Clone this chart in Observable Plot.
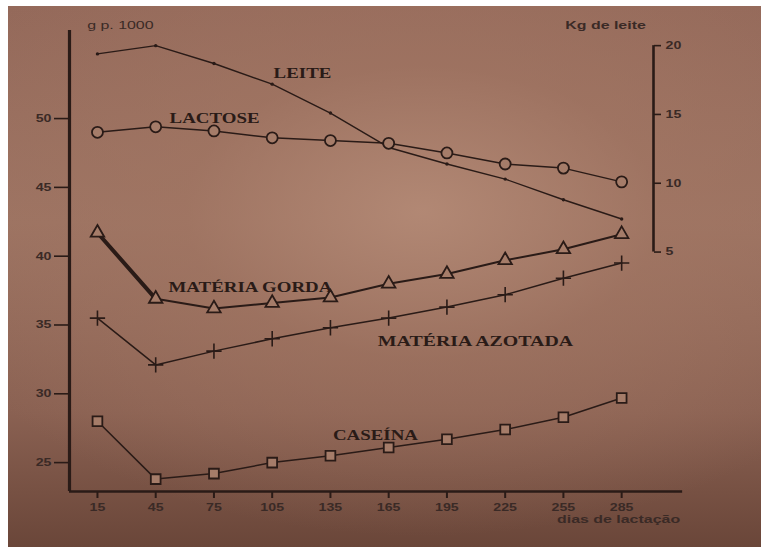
<!DOCTYPE html>
<html>
<head>
<meta charset="utf-8">
<script src="https://cdn.jsdelivr.net/npm/d3@7"></script>
<script src="https://cdn.jsdelivr.net/npm/@observablehq/plot@0.6"></script>
<style>
  html, body { margin: 0; padding: 0; background: #ffffff; }
  #page {
    position: absolute; left: 8px; top: 6px; width: 753px; height: 541px;
    background:
      radial-gradient(ellipse 70% 60% at 55% 38%, rgba(180,138,118,0.9) 0%, rgba(162,118,99,0.6) 45%, rgba(120,84,69,0) 100%),
      linear-gradient(180deg, #94695a 0%, #9c7362 40%, #8a6152 75%, #6a4639 100%);
  }
  #chart { position: absolute; left: 0; top: 0; }
</style>
</head>
<body>
<div id="page"></div>
<div id="chart"></div>
<script>
// ---- data ----
const days     = [15, 45, 75, 105, 135, 165, 195, 225, 255, 285];
const leiteKg  = [19.4, 20.0, 18.7, 17.2, 15.1, 12.6, 11.4, 10.3, 8.8, 7.4];   // right axis, Kg de leite
const lactose  = [49.0, 49.4, 49.1, 48.6, 48.4, 48.2, 47.5, 46.7, 46.4, 45.4]; // g p. 1000
const gorda    = [41.7, 36.9, 36.2, 36.6, 37.0, 38.0, 38.7, 39.7, 40.5, 41.6];
const azotada  = [35.5, 32.1, 33.1, 34.0, 34.8, 35.5, 36.3, 37.2, 38.4, 39.5];
const caseina  = [28.0, 23.8, 24.2, 25.0, 25.5, 26.1, 26.7, 27.4, 28.3, 29.7];
const leftTicks  = [25, 30, 35, 40, 45, 50];
const rightTicks = [5, 10, 15, 20];
const seriesNames = ["LEITE", "LACTOSE", "MATÉRIA GORDA", "MATÉRIA AZOTADA", "CASEÍNA"];
const titleTexts = ["g p. 1000", "Kg de leite", "dias de lactação"];

// ---- layout / scale alignment ----
const xDomain = [0.6, 301.4];
const xAxisEnd = 316.4;
const yDomain = [22.9, 56.4];
const kgOffset = 35.3;            // aligns the Kg axis with the g p. 1000 axis
const ink = "#2a1b17";
const tickInk = "#3a2a26";

const rows = (vals) => days.map((d, i) => ({day: d, v: vals[i], i}));
const leite = days.map((d, i) => ({day: d, v: leiteKg[i] + kgOffset, i}));

const labels = [
  {text: seriesNames[0], day: 120.6, v: 53.3},
  {text: seriesNames[1], day: 75.3,  v: 50.0},
  {text: seriesNames[2], day: 93.8,  v: 37.7},
  {text: seriesNames[3], day: 209.7, v: 33.8},
  {text: seriesNames[4], day: 158.2, v: 27.0}
];
const titles = [
  {text: titleTexts[0], day: 26.8,  v: 56.8},
  {text: titleTexts[1], day: 276.7, v: 56.8},
  {text: titleTexts[2], day: 283.4, v: 20.86}
];

const serif = "Liberation Serif, Times New Roman, serif";
const bgFill = "#a57c69";

const plot = Plot.plot({
  width: 761,
  height: 547,
  marginLeft: 69,
  marginRight: 108,
  marginTop: 30,
  marginBottom: 56,
  style: {background: "transparent", fontFamily: "Liberation Sans, Arial, sans-serif", fontSize: "10.5px", fontWeight: "bold", color: tickInk},
  x: {domain: xDomain},
  y: {domain: yDomain},
  marks: [
    // axes
    Plot.axisX({ticks: days, tickSize: 7, tickPadding: 5, label: null, stroke: ink, strokeWidth: 2, fill: tickInk}),
    Plot.axisY({anchor: "left", ticks: leftTicks, tickSize: 15, tickPadding: 3, label: null, stroke: ink, strokeWidth: 1.6, fill: tickInk}),
    Plot.axisY({anchor: "right", ticks: rightTicks.map(r => r + kgOffset), tickFormat: d => String(Math.round(d - kgOffset)), tickSize: 7, tickPadding: 5, label: null, stroke: ink, strokeWidth: 1.6, fill: tickInk}),
    Plot.ruleX([xDomain[0]], {stroke: ink, strokeWidth: 3.2}),
    Plot.ruleY([yDomain[0]], {x1: xDomain[0], x2: xAxisEnd, stroke: ink, strokeWidth: 2.6}),
    Plot.ruleX([xDomain[1]], {y1: rightTicks[0] + kgOffset, y2: rightTicks[rightTicks.length - 1] + kgOffset, stroke: ink, strokeWidth: 2.6}),

    // LEITE
    Plot.line(leite, {x: "day", y: "v", stroke: ink, strokeWidth: 1.4}),
    Plot.dot(leite, {x: "day", y: "v", r: 1.7, fill: ink}),

    // LACTOSE
    Plot.line(rows(lactose), {x: "day", y: "v", stroke: ink, strokeWidth: 1.5}),
    Plot.dot(rows(lactose), {x: "day", y: "v", r: 5.5, symbol: "circle", stroke: ink, strokeWidth: 1.8, fill: bgFill}),

    // MATÉRIA GORDA
    Plot.line(rows(gorda), {x: "day", y: "v", stroke: ink, strokeWidth: 2}),
    Plot.line(rows(gorda).filter(d => d.i < 2), {x: "day", y: "v", stroke: ink, strokeWidth: 4}),
    Plot.dot(rows(gorda), {x: "day", y: "v", r: 5, symbol: "triangle", stroke: ink, strokeWidth: 1.8, fill: bgFill}),

    // MATÉRIA AZOTADA
    Plot.line(rows(azotada), {x: "day", y: "v", stroke: ink, strokeWidth: 1.5}),
    Plot.dot(rows(azotada), {x: "day", y: "v", r: 5, symbol: "plus", stroke: ink, strokeWidth: 1.6}),

    // CASEÍNA
    Plot.line(rows(caseina), {x: "day", y: "v", stroke: ink, strokeWidth: 1.5}),
    Plot.dot(rows(caseina), {x: "day", y: "v", r: 5.5, symbol: "square", stroke: ink, strokeWidth: 1.8, fill: bgFill}),

    // labels
    Plot.text(labels, {x: "day", y: "v", text: "text", fontFamily: serif, fontSize: 14, fontWeight: "bold", fill: ink}),
    Plot.text(titles, {x: "day", y: "v", text: "text", fontSize: 11, fontWeight: "bold", fill: tickInk})
  ]
});
document.getElementById("chart").appendChild(plot);

// the printed type is horizontally wide: stretch glyphs horizontally about each label's anchor
function widen(node, k) {
  const xa = node.getAttribute("x");
  const x = xa !== null && isFinite(+xa) ? +xa : 0;
  const t = node.getAttribute("transform") || "";
  if (xa !== null && isFinite(+xa)) node.setAttribute("x", 0);
  node.setAttribute("transform", `${t} translate(${x},0) scale(${k},1)`);
}
plot.querySelectorAll("text").forEach(node => {
  const s = node.textContent;
  if (seriesNames.includes(s)) widen(node, s === seriesNames[3] ? 1.42 : 1.35);
  else if (titleTexts.includes(s)) {
    widen(node, 1.45);
    if (s === titleTexts[0]) node.setAttribute("font-weight", "normal");
  }
  else widen(node, 1.35);
});
</script>
</body>
</html>
